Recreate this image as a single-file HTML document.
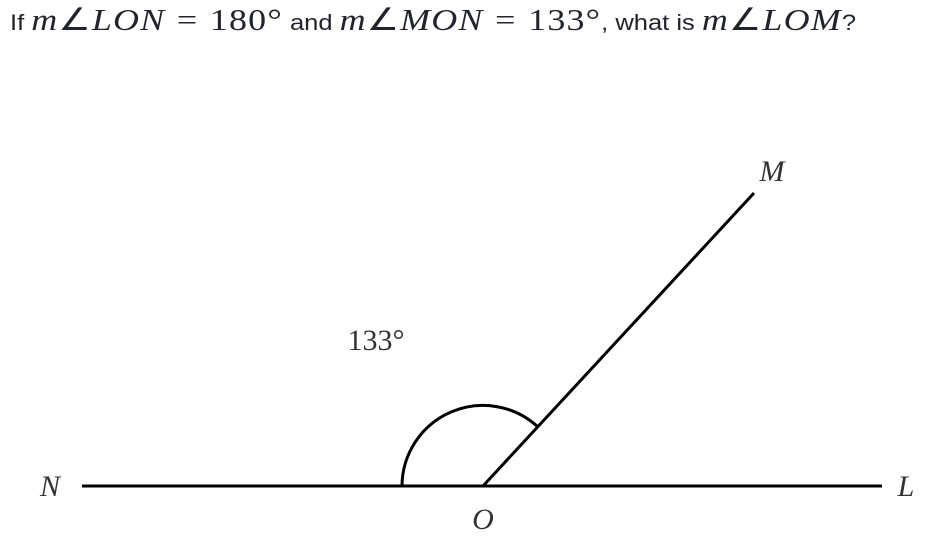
<!DOCTYPE html>
<html><head><meta charset="utf-8"><style>
body{margin:0;width:929px;height:537px;background:#fff;overflow:hidden;position:relative;}
#q{position:absolute;left:10px;top:2px;white-space:nowrap;font-family:"Liberation Sans",sans-serif;font-size:22px;color:#21242c;transform:scaleX(1.16);transform-origin:0 0;}
.m{font-family:"Liberation Serif",serif;font-size:31px;letter-spacing:1px;}
.i{font-style:italic;}
.eq{margin:0 10px;}
svg{position:absolute;left:0;top:0;}
</style></head><body>
<div id="q">If <span class="m"><span class="i">m</span>∠<span class="i">LON</span><span class="eq">=</span>180°</span> and <span class="m"><span class="i">m</span>∠<span class="i">MON</span><span class="eq">=</span>133°</span>, what is <span class="m"><span class="i">m</span>∠<span class="i">LOM</span></span>?</div>
<svg width="929" height="537">
<line x1="82" y1="486" x2="882" y2="486" stroke="#000" stroke-width="3"/>
<line x1="483" y1="486" x2="754" y2="193" stroke="#000" stroke-width="3"/>
<path d="M402,486 A81,81 0 0 1 538,427" fill="none" stroke="#000" stroke-width="3"/>
<g font-family="Liberation Serif,serif" font-size="30" fill="#333" text-anchor="middle">
<text x="50" y="496" font-style="italic">N</text>
<text x="906" y="496" font-style="italic">L</text>
<text x="483" y="529" font-style="italic">O</text>
<text x="772" y="181" font-style="italic">M</text>
<text x="376" y="350">133°</text>
</g>
</svg>
</body></html>
